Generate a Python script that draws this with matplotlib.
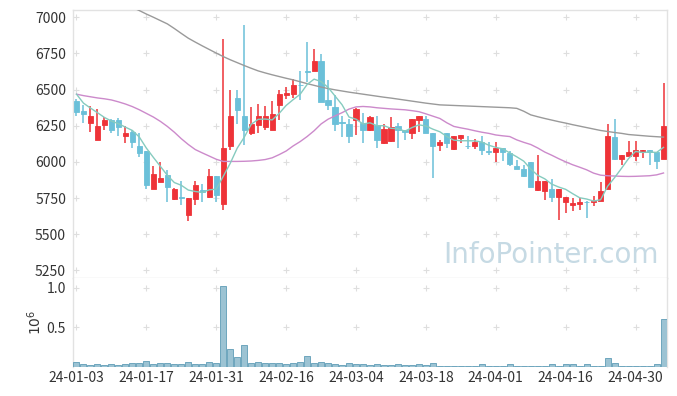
import matplotlib
matplotlib.use("Agg")
import matplotlib.pyplot as plt
import numpy as np

# ---------------- data ----------------
tick_labels = ["24-01-03", "24-01-17", "24-01-31", "24-02-16", "24-03-04",
               "24-03-18", "24-04-01", "24-04-16", "24-04-30"]

opens = [6424, 6353, 6272, 6148, 6258, 6291, 6291, 6176, 6208, 6113,
         6072, 5812, 5863, 5909, 5745, 5757, 5635, 5745, 5802, 5754,
         5904, 5706, 6113, 6445, 6318, 6203, 6256, 6238, 6217, 6394,
         6463, 6470, 6532, 6625, 6629, 6698, 6429, 6378, 6275, 6263,
         6286, 6272, 6222, 6256, 6130, 6146, 6245, 6222, 6203, 6291,
         6295, 6203, 6114, 6199, 6088, 6167, 6111, 6113, 6134, 6072,
         6065, 6095, 6061, 5973, 5950, 5999, 5807, 5796, 5812, 5754,
         5722, 5699, 5706, 5724, 5720, 5727, 5814, 6171, 6022, 6042,
         6042, 6065, 6084, 6070, 6019]
highs = [6433, 6394, 6383, 6364, 6307, 6295, 6300, 6245, 6217, 6199,
         6072, 5973, 5996, 5945, 5819, 5865, 5752, 5865, 5846, 5950,
         5904, 6848, 6498, 6498, 6947, 6378, 6399, 6387, 6422, 6498,
         6516, 6574, 6625, 6832, 6779, 6745, 6565, 6465, 6314, 6295,
         6371, 6337, 6318, 6318, 6263, 6309, 6268, 6222, 6295, 6318,
         6314, 6203, 6153, 6199, 6176, 6183, 6176, 6157, 6176, 6134,
         6134, 6095, 6072, 6015, 5980, 5999, 6049, 5870, 5881, 5812,
         5754, 5750, 5750, 5726, 5761, 5858, 6263, 6295, 6049, 6141,
         6141, 6084, 6084, 6070, 6544]
lows = [6314, 6272, 6206, 6148, 6222, 6199, 6176, 6130, 6095, 6037,
        5812, 5812, 5858, 5720, 5738, 5700, 5589, 5704, 5722, 5750,
        5722, 5665, 6079, 6263, 6118, 6187, 6203, 6222, 6217, 6291,
        6433, 6440, 6429, 6555, 6625, 6417, 6362, 6210, 6171, 6130,
        6183, 6130, 6210, 6095, 6125, 6137, 6095, 6148, 6157, 6206,
        6203, 5888, 6072, 6095, 6084, 6130, 6088, 6088, 6049, 6049,
        5996, 6003, 5969, 5950, 5893, 5823, 5796, 5738, 5720, 5600,
        5646, 5662, 5669, 5612, 5692, 5727, 5814, 6010, 5980, 6038,
        6003, 6026, 5980, 5950, 6019]
closes = [6348, 6328, 6318, 6249, 6291, 6222, 6238, 6201, 6134, 6061,
          5842, 5918, 5890, 5823, 5812, 5748, 5750, 5842, 5791, 5904,
          5768, 6097, 6318, 6360, 6217, 6263, 6314, 6314, 6332, 6470,
          6475, 6532, 6528, 6620, 6694, 6417, 6394, 6263, 6270, 6180,
          6367, 6222, 6309, 6153, 6226, 6240, 6217, 6206, 6295, 6318,
          6203, 6107, 6134, 6130, 6176, 6183, 6107, 6134, 6084, 6065,
          6095, 6065, 5987, 5950, 5904, 5823, 5870, 5870, 5754, 5812,
          5754, 5715, 5724, 5720, 5731, 5800, 6180, 6022, 6049, 6065,
          6079, 6084, 6065, 6003, 6249]

ma5 = [6468, 6406, 6372, 6340, 6307, 6282, 6264, 6240, 6217, 6171,
       6095, 6031, 5969, 5907, 5857, 5838, 5805, 5795, 5789, 5807,
       5811, 5900, 5990, 6095, 6170, 6260, 6294, 6296, 6290, 6335,
       6390, 6430, 6467, 6535, 6572, 6555, 6515, 6455, 6395, 6310,
       6295, 6262, 6270, 6250, 6250, 6232, 6229, 6212, 6237, 6256,
       6248, 6226, 6208, 6175, 6150, 6146, 6146, 6145, 6137, 6115,
       6100, 6090, 6062, 6035, 6005, 5950, 5907, 5883, 5846, 5826,
       5810, 5780, 5752, 5743, 5729, 5738, 5831, 5891, 5956, 6023,
       6072, 6065, 6068, 6065, 6100]
ma20 = [6468, 6458, 6450, 6442, 6436, 6428, 6415, 6400, 6382, 6360,
        6335, 6310, 6280, 6245, 6205, 6160, 6120, 6085, 6062, 6040,
        6018, 6003, 6003, 6003, 6004, 6006, 6010, 6016, 6028, 6050,
        6075, 6110, 6140, 6175, 6215, 6262, 6295, 6318, 6340, 6365,
        6380, 6383, 6380, 6374, 6370, 6366, 6363, 6360, 6354, 6347,
        6332, 6316, 6300, 6270, 6245, 6235, 6226, 6215, 6205, 6197,
        6186, 6180, 6175, 6152, 6135, 6120, 6096, 6068, 6046, 6022,
        6000, 5980, 5963, 5945, 5922, 5908, 5904, 5902, 5900, 5899,
        5900, 5902, 5904, 5910, 5923]
ma60 = [7260, 7240, 7215, 7190, 7165, 7140, 7115, 7090, 7068, 7046,
        7022, 7000, 6977, 6954, 6922, 6888, 6855, 6828, 6802, 6777,
        6752, 6728, 6706, 6686, 6666, 6647, 6629, 6615, 6602, 6590,
        6578, 6567, 6554, 6541, 6529, 6517, 6507, 6498, 6490, 6482,
        6475, 6468, 6461, 6454, 6447, 6441, 6434, 6427, 6420, 6413,
        6406, 6400, 6394, 6392, 6390, 6388, 6386, 6384, 6382, 6380,
        6378, 6376, 6374, 6370, 6350, 6325, 6312, 6300, 6289, 6278,
        6268, 6257, 6247, 6237, 6227, 6217, 6210, 6203, 6197, 6189,
        6185, 6181, 6177, 6174, 6171]

volume = [62000, 37000, 25000, 37000, 25000, 37000, 25000, 37000, 50000, 50000,
          75000, 37000, 50000, 50000, 37000, 37000, 62000, 37000, 37000, 62000,
          50000, 1025000, 225000, 125000, 275000, 50000, 62000, 50000, 50000, 50000,
          37000, 50000, 62000, 137000, 50000, 62000, 50000, 37000, 20000, 50000,
          37000, 37000, 20000, 37000, 20000, 20000, 37000, 20000, 20000, 37000,
          20000, 50000, 15000, 15000, 15000, 15000, 15000, 15000, 37000, 15000,
          15000, 15000, 37000, 15000, 15000, 15000, 15000, 15000, 37000, 15000,
          37000, 37000, 15000, 37000, 15000, 15000, 112000, 50000, 15000, 15000,
          15000, 15000, 15000, 37000, 612000]

price_ticks = [5250, 5500, 5750, 6000, 6250, 6500, 6750, 7000]
vol_ticks = [0.5, 1.0]

# ---------------- style ----------------
RED = "#ee3338"
BLUE = "#6bc0d9"
C_MA5 = "#86cbbf"
C_MA20 = "#cc8acb"
C_MA60 = "#9a9a9a"
SPINE = "#e2e2e2"
GRIDC = "#dedede"
TXT = "#333333"
FONT = ["Noto Sans CJK KR", "DejaVu Sans"]
plt.rcParams["font.family"] = FONT

W, H = 677, 396
fig = plt.figure(figsize=(W / 100, H / 100), dpi=100)
fig.patch.set_facecolor("white")
L, R = 73, 667
ax = fig.add_axes([L / W, 1 - 278 / H, (R - L) / W, (278 - 10) / H])
axv = fig.add_axes([L / W, 1 - 367 / H, (R - L) / W, (367 - 278) / H], sharex=ax)

o = np.array(opens, float)
h = np.array(highs, float)
lo = np.array(lows, float)
c = np.array(closes, float)
x = np.arange(len(o))
cols = np.where(c >= o, RED, BLUE)

# grid crosses
tick_pos = np.arange(0, len(o), 10)[:len(tick_labels)]
gx, gy = np.meshgrid(tick_pos, price_ticks)
ax.scatter(gx.ravel(), gy.ravel(), marker="+", s=18, color=GRIDC, linewidths=0.8, zorder=0)
gx2, gy2 = np.meshgrid(tick_pos, vol_ticks)
axv.scatter(gx2.ravel(), gy2.ravel(), marker="+", s=18, color=GRIDC, linewidths=0.8, zorder=0)

# candles
ax.vlines(x, lo, h, colors=cols, linewidth=1.1, zorder=3)
ax.bar(x, np.abs(c - o), bottom=np.minimum(o, c), width=0.74, color=cols,
       edgecolor=cols, linewidth=0.6, zorder=4)

# moving averages
ax.plot(x, ma60, color=C_MA60, lw=1.0, zorder=5)
ax.plot(x, ma20, color=C_MA20, lw=1.0, zorder=5)
ax.plot(x, ma5, color=C_MA5, lw=1.0, zorder=5)

ax.set_ylim(5197, 7050)
ax.set_xlim(-0.5, len(o) - 0.5)
ax.set_yticks(price_ticks)
ax.set_yticklabels([str(t) for t in price_ticks])

# volume
v = np.array(volume, float) / 1e6
axv.bar(x, v, width=0.86, color="#9cc3d3", edgecolor="#5e9cb6", linewidth=0.6, zorder=3)
axv.set_ylim(0, 1.125)
axv.set_yticks(vol_ticks)
axv.set_yticklabels(["0.5", "1.0"])
axv.set_xticks(tick_pos)
axv.set_xticklabels(tick_labels)

for a in (ax, axv):
    a.tick_params(length=0, labelsize=10, colors=TXT, pad=5)
    for s in a.spines.values():
        s.set_color(SPINE)
        s.set_linewidth(1.0)
    a.set_facecolor("white")
ax.tick_params(axis="x", labelbottom=False)
axv.spines["top"].set_visible(False)
axv.spines["bottom"].set_visible(False)
axv.tick_params(axis="x", pad=3)

fig.text(35 / W, 1 - 322 / H, r"$10^{6}$", rotation=90, ha="center", va="center",
         fontsize=10, color=TXT)

fig.text(551 / W, 1 - 255 / H, "InfoPointer.com", ha="center", va="center",
         fontsize=20, color="#c6dae4", family="DejaVu Sans", zorder=10)

fig.savefig("out.png", dpi=100, facecolor="white")
